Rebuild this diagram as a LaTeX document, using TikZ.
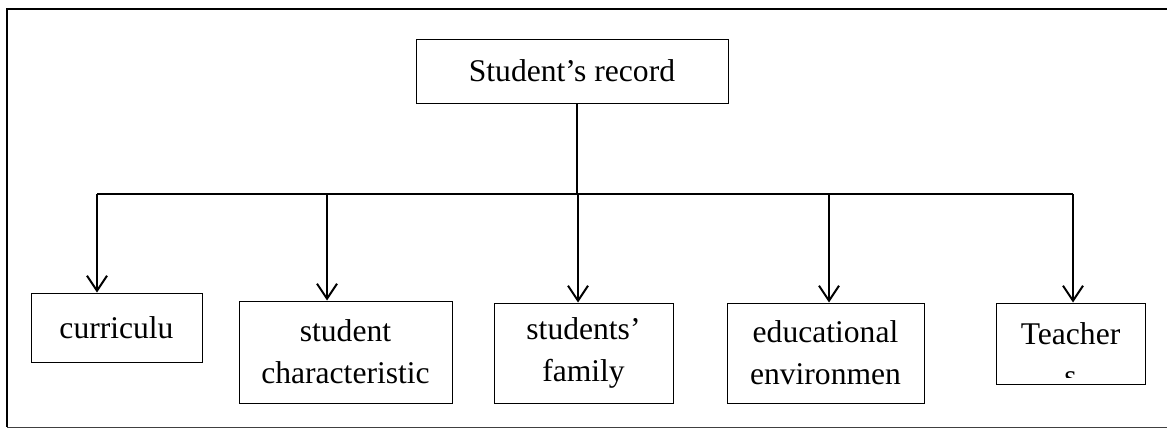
\documentclass[tikz,border=0pt]{standalone}
\usepackage{fontspec}
\setmainfont{Liberation Serif}
\usetikzlibrary{arrows.meta, positioning, calc}

\tikzset{
    recbox/.style={draw, line width=0.5pt, inner sep=2pt, align=center},
    link/.style={line width=1pt},
    linkarrow/.style={line width=1pt, -{Straight Barb[length=7.5pt, width=10pt, line width=1pt]}}
}

\begin{document}
\begin{tikzpicture}[x=0.5pt, y=-0.5pt, every node/.style={font=\fontsize{15.8}{21}\selectfont}]
    \useasboundingbox (0,0) rectangle (1167,428);

    % Rahmen
    \draw[line width=1pt] (1167,9) -- (7,9) -- (7,427);
    \draw[line width=0.5pt, black!75] (7,427) -- (1167,427);

    % Wurzel
    \node[recbox, minimum width=156pt, minimum height=32pt] (rec) at (572,71) {Student’s record};

    % Kinder
    \node[recbox, minimum width=85.5pt, minimum height=34.5pt] (cur) at (116.5,327.5) {curriculu};
    \node[recbox, minimum width=106.5pt, minimum height=51pt] (cha) at (345.5,352) {student\\characteristic};
    \node[recbox, minimum width=89.5pt, minimum height=50pt] (fam) at (583.5,353) {students’\\family};
    \node[recbox, minimum width=98.5pt, minimum height=50pt] (env) at (825.5,353) {educational\\environmen};
    \node[recbox, minimum width=74.5pt, minimum height=40.5pt, path picture={
        \clip ([yshift=3.5pt]path picture bounding box.south west) rectangle (path picture bounding box.north east);
        \node[align=center, anchor=base] at ([yshift=-41.5pt]path picture bounding box.north) {Teacher\\s};
    }] (tea) at (1070.5,343.5) {};

    % Verteiler
    \coordinate (hub) at (577,194);
    \coordinate (b1) at (97,194);
    \coordinate (b2) at (327,194);
    \coordinate (b3) at (578,194);
    \coordinate (b4) at (829,194);
    \coordinate (b5) at (1073,194);

    \draw[link] (rec.south -| hub) -- (hub);
    \draw[link] (b1) -- (b5);

    \foreach \b/\n in {b1/cur, b2/cha, b3/fam, b4/env, b5/tea}
        \draw[linkarrow] (\b) -- (\b |- \n.north);
\end{tikzpicture}
\end{document}
